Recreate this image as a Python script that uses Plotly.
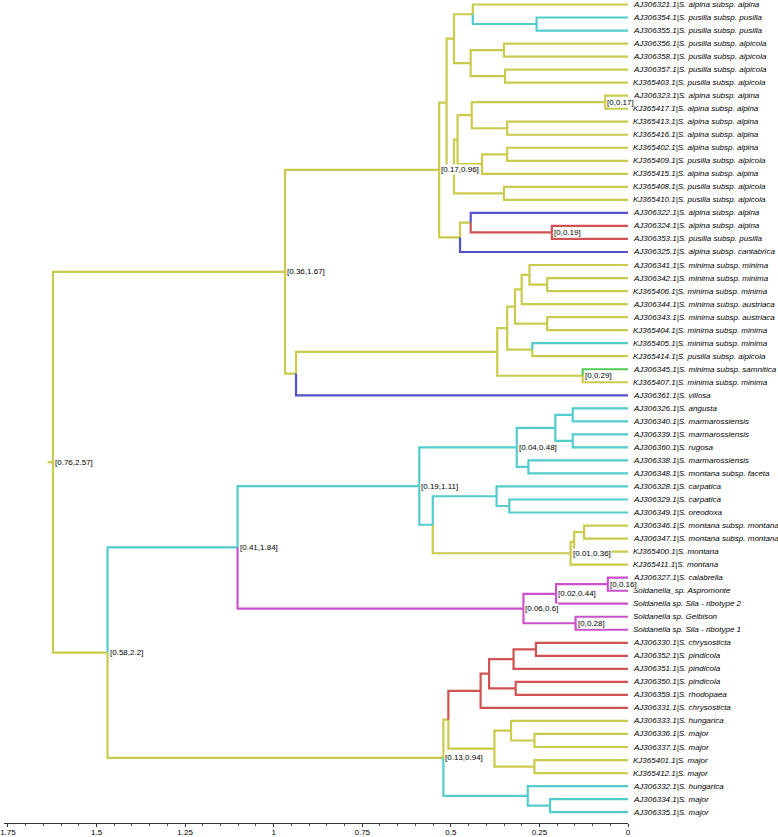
import plotly.graph_objects as go

# ---------------- data ----------------
leaf_names = [
    "AJ306321.1|S. alpina subsp. alpina",
    "AJ306354.1|S. pusilla subsp. pusilla",
    "AJ306355.1|S. pusilla subsp. pusilla",
    "AJ306356.1|S. pusilla subsp. alpicola",
    "AJ306358.1|S. pusilla subsp. alpicola",
    "AJ306357.1|S. pusilla subsp. alpicola",
    "KJ365403.1|S. pusilla subsp. alpicola",
    "AJ306323.1|S. alpina subsp. alpina",
    "KJ365417.1|S. alpina subsp. alpina",
    "KJ365413.1|S. alpina subsp. alpina",
    "KJ365416.1|S. alpina subsp. alpina",
    "KJ365402.1|S. alpina subsp. alpina",
    "KJ365409.1|S. pusilla subsp. alpicola",
    "KJ365415.1|S. alpina subsp. alpina",
    "KJ365408.1|S. pusilla subsp. alpicola",
    "KJ365410.1|S. pusilla subsp. alpicola",
    "AJ306322.1|S. alpina subsp. alpina",
    "AJ306324.1|S. alpina subsp. alpina",
    "AJ306353.1|S. pusilla subsp. pusilla",
    "AJ306325.1|S. alpina subsp. cantabrica",
    "AJ306341.1|S. minima subsp. minima",
    "AJ306342.1|S. minima subsp. minima",
    "KJ365406.1|S. minima subsp. minima",
    "AJ306344.1|S. minima subsp. austriaca",
    "AJ306343.1|S. minima subsp. austriaca",
    "KJ365404.1|S. minima subsp. minima",
    "KJ365405.1|S. minima subsp. minima",
    "KJ365414.1|S. pusilla subsp. alpicola",
    "AJ306345.1|S. minima subsp. samnitica",
    "KJ365407.1|S. minima subsp. minima",
    "AJ306361.1|S. villosa",
    "AJ306326.1|S. angusta",
    "AJ306340.1|S. marmarossiensis",
    "AJ306339.1|S. marmarossiensis",
    "AJ306360.1|S. rugosa",
    "AJ306338.1|S. marmarossiensis",
    "AJ306348.1|S. montana subsp. faceta",
    "AJ306328.1|S. carpatica",
    "AJ306329.1|S. carpatica",
    "AJ306349.1|S. oreodoxa",
    "AJ306346.1|S. montana subsp. montana",
    "AJ306347.1|S. montana subsp. montana",
    "KJ365400.1|S. montana",
    "KJ365411.1|S. montana",
    "AJ306327.1|S. calabrella",
    "Soldanella_sp. Aspromonte",
    "Soldanella sp. Sila - ribotype 2",
    "Soldanella sp. Gelbison",
    "Soldanella sp. Sila - ribotype 1",
    "AJ306330.1|S. chrysosticta",
    "AJ306352.1|S. pindicola",
    "AJ306351.1|S. pindicola",
    "AJ306350.1|S. pindicola",
    "AJ306359.1|S. rhodopaea",
    "AJ306331.1|S. chrysosticta",
    "AJ306333.1|S. hungarica",
    "AJ306336.1|S. major",
    "AJ306337.1|S. major",
    "KJ365401.1|S. major",
    "KJ365412.1|S. major",
    "AJ306332.1|S. hungarica",
    "AJ306334.1|S. major",
    "AJ306335.1|S. major",
]

node_ids = ["root", "H", "A", "C", "B", "B1", "n23", "B2", "n45", "n67",
            "E", "D", "D1", "n89", "n1011", "D2", "n1213", "n1516",
            "F", "G", "n1819",
            "I", "J", "K", "M", "O", "Q", "n2223", "P", "N", "Lm",
            "S", "T", "V", "X", "Z", "n3233", "n3435", "n3637",
            "Y", "AA", "n3940", "AB", "AC", "AD",
            "W", "AE", "AG", "AF",
            "U", "AH", "AI", "AK", "AL", "AN", "AM",
            "AJ", "AO", "AQ", "AP", "AR", "AS"]

node_children = [
    ["H", "S"], ["A", "I"], ["C", "F"], ["B", "E"], ["B1", "B2"], ["L1", "n23"], ["L2", "L3"],
    ["n45", "n67"], ["L4", "L5"], ["L6", "L7"],
    ["D", "n1516"], ["D1", "D2"], ["n89", "n1011"], ["L8", "L9"], ["L10", "L11"],
    ["n1213", "L14"], ["L12", "L13"], ["L15", "L16"],
    ["G", "L20"], ["L17", "n1819"], ["L18", "L19"],
    ["J", "L31"], ["K", "Lm"], ["M", "N"], ["O", "P"], ["Q", "L24"], ["L21", "n2223"],
    ["L22", "L23"], ["L25", "L26"], ["L27", "L28"], ["L29", "L30"],
    ["T", "U"], ["V", "W"], ["X", "Y"], ["Z", "n3637"], ["n3233", "n3435"], ["L32", "L33"],
    ["L34", "L35"], ["L36", "L37"],
    ["AA", "AB"], ["L38", "n3940"], ["L39", "L40"], ["AC", "L44"], ["AD", "L43"], ["L41", "L42"],
    ["AE", "AF"], ["AG", "L47"], ["L45", "L46"], ["L48", "L49"],
    ["AH", "AR"], ["AI", "AJ"], ["AK", "L55"], ["AL", "AM"], ["AN", "L52"], ["L50", "L51"], ["L53", "L54"],
    ["AO", "AP"], ["L56", "AQ"], ["L57", "L58"], ["L59", "L60"], ["L61", "AS"], ["L62", "L63"],
]

node_heights = [
    1.623, 0.968, 0.533, 0.512, 0.491, 0.438, 0.258, 0.444, 0.350, 0.347,
    0.491, 0.481, 0.441, 0.064, 0.341, 0.412, 0.341, 0.350,
    0.474, 0.444, 0.215,
    0.937, 0.369, 0.341, 0.319, 0.300, 0.278, 0.228, 0.228, 0.270, 0.128,
    1.469, 1.102, 0.589, 0.314, 0.205, 0.156, 0.156, 0.281,
    0.551, 0.371, 0.335, 0.162, 0.152, 0.124,
    0.295, 0.203, 0.057, 0.148,
    0.521, 0.507, 0.416, 0.392, 0.323, 0.260, 0.317,
    0.377, 0.330, 0.264, 0.264, 0.283, 0.220,
]

node_labels = {
    "root": "[0.76,2.57]", "H": "[0.36,1.67]", "A": "[0.17,0.96]", "n89": "[0,0.17]",
    "n1819": "[0,0.19]", "Lm": "[0,0.29]", "S": "[0.58,2.2]", "T": "[0.41,1.84]",
    "V": "[0.19,1.11]", "X": "[0.04,0.48]", "AB": "[0.01,0.36]", "W": "[0.06,0.6]",
    "AE": "[0.02,0.44]", "AG": "[0,0.16]", "AF": "[0,0.28]", "U": "[0.13,0.94]",
}

root_stub_height = 1.638

tick_values = [1.75, 1.5, 1.25, 1.0, 0.75, 0.5, 0.25, 0.0]
tick_labels = ["1.75", "1.5", "1.25", "1", "0.75", "0.5", "0.25", "0"]

# ---------------- styles ----------------
YEL = "rgb(202,202,76)"
CYA = "rgb(82,204,204)"
BLU = "rgb(82,82,204)"
RED = "rgb(208,82,82)"
MAG = "rgb(204,82,204)"
GRN = "rgb(82,204,82)"

cyan_nodes = ["n23", "L2", "L3", "L27", "T", "V", "X", "Z", "n3233", "n3435", "n3637",
              "L32", "L33", "L34", "L35", "L36", "L37", "Y", "AA", "n3940", "L38", "L39", "L40",
              "AR", "AS", "L61", "L62", "L63"]
blue_nodes = ["L17", "L20", "L31"]
red_nodes = ["n1819", "L18", "L19", "AI", "AK", "AL", "AN", "AM", "L50", "L51", "L52", "L53", "L54", "L55"]
mag_nodes = ["W", "AE", "AG", "AF", "L45", "L46", "L47", "L48", "L49"]
green_nodes = ["L29"]

color_of = {}
for lst, col in [(cyan_nodes, CYA), (blue_nodes, BLU), (red_nodes, RED), (mag_nodes, MAG), (green_nodes, GRN)]:
    for n in lst:
        color_of[n] = col

# ---------------- layout of tree ----------------
children = dict(zip(node_ids, node_children))
height = dict(zip(node_ids, node_heights))
for i in range(len(leaf_names)):
    height[f"L{i+1}"] = 0.0

ypos = {}


def gety(n):
    if n in ypos:
        return ypos[n]
    if n.startswith("L") and n[1:].isdigit():
        v = int(n[1:]) - 1
    else:
        ch = children[n]
        v = (gety(ch[0]) + gety(ch[-1])) / 2.0
    ypos[n] = v
    return v


gety("root")

segs = {}


def add(col, xs, ys):
    d = segs.setdefault(col, ([], []))
    d[0].extend(xs + [None])
    d[1].extend(ys + [None])


for p in node_ids:
    for c in children[p]:
        col = color_of.get(c, YEL)
        add(col, [height[p], height[p], height[c]], [ypos[p], ypos[c], ypos[c]])

add(YEL, [root_stub_height, height["root"]], [ypos["root"], ypos["root"]])

fig = go.Figure()
for col in [YEL, CYA, BLU, RED, MAG, GRN]:
    if col in segs:
        xs, ys = segs[col]
        fig.add_trace(go.Scatter(x=xs, y=ys, mode="lines",
                                 line=dict(color=col, width=2.2),
                                 hoverinfo="skip", showlegend=False))

annotations = []
for i, name in enumerate(leaf_names):
    annotations.append(dict(x=0, y=i, xref="x", yref="y", text=f"<i>{name}</i>",
                            showarrow=False, xanchor="left", yanchor="middle", xshift=3,
                            font=dict(family="Liberation Sans", size=8, color="black")))
for n, lab in node_labels.items():
    annotations.append(dict(x=height[n], y=ypos[n], xref="x", yref="y", text=lab,
                            showarrow=False, xanchor="left", yanchor="middle", xshift=1,
                            bgcolor="white", borderpad=0,
                            font=dict(family="Liberation Sans", size=8, color="black")))

W_, H_ = 778, 837
ml, mr, mt, mb = 4, 150, 0, 10
px_per_unit = 354.3
x_left = (W_ - ml - mr) / px_per_unit
leaf_px0, leaf_step = 4.5, 13.09
plot_h = H_ - mt - mb
y_top = -leaf_px0 / leaf_step
y_bot = y_top + plot_h / leaf_step

fig.update_layout(
    width=W_, height=H_,
    margin=dict(l=ml, r=mr, t=mt, b=mb),
    plot_bgcolor="white", paper_bgcolor="white",
    annotations=annotations,
    xaxis=dict(range=[x_left, 0], showgrid=False, zeroline=False,
               showline=True, linecolor="#333", linewidth=1,
               ticks="outside", ticklen=3, tickcolor="#333",
               tickvals=tick_values, ticktext=tick_labels,
               ticklabelstandoff=-2,
               tickfont=dict(family="Liberation Sans", size=8, color="black"),
               minor=dict(ticks="outside", ticklen=2, dtick=0.05, tickcolor="#555")),
    yaxis=dict(range=[y_bot, y_top], showgrid=False, zeroline=False,
               showticklabels=False, showline=False, ticks=""),
)

fig.write_html("out.html", config={"displayModeBar": False},
               post_script="document.body.style.margin='0';document.body.style.overflow='hidden';")
